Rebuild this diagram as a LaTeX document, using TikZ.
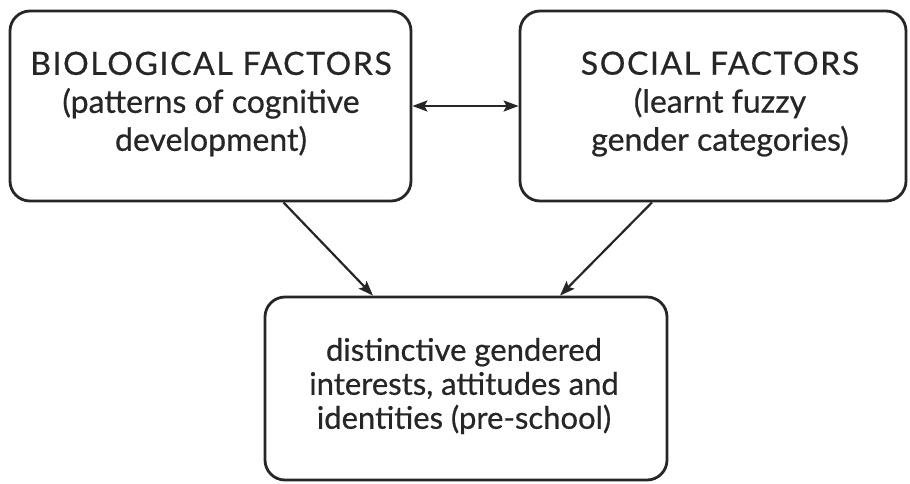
\documentclass[tikz,border=0pt]{standalone}
\usepackage{fontspec}
\setmainfont{Lato}
\newfontfamily\gillish{Lato}[FakeBold=0.6]
\newfontfamily\gillcaps{Lato}[FakeBold=0.6,LetterSpace=5]
\usetikzlibrary{arrows.meta,calc}
\definecolor{ink}{HTML}{262626}
\tikzset{
  factorbox/.style={draw=ink, line width=2.8pt, rounded corners=20pt, align=center,
    text=ink, inner sep=0pt},
  topfont/.style={font=\gillish\fontsize{32}{38}\selectfont},
  botfont/.style={font=\gillish\fontsize{31}{34}\selectfont},
  link/.style={draw=ink, line width=2.2pt, -{Stealth[length=15pt,width=11pt,inset=3pt]}},
  twolink/.style={draw=ink, line width=2.2pt, {Stealth[length=15pt,width=11pt,inset=3pt]}-{Stealth[length=15pt,width=11pt,inset=3pt]}}
}
\begin{document}
\begin{tikzpicture}[x=1pt,y=-1pt]
\useasboundingbox (0,0) rectangle (910,483);
\node[factorbox, minimum width=401pt, minimum height=190pt] (bio) at (210.5,106) {};
\node[factorbox, minimum width=386pt, minimum height=190pt] (soc) at (713,106) {};
\node[factorbox, minimum width=402pt, minimum height=183pt] (out) at (466,388.5) {};
\node[topfont, text=ink, align=center, anchor=center] (biotext) at (211,104)
  {{\gillcaps BIOLOGICAL FACTORS}\\(patterns of cognitive\\development)};
\node[topfont, text=ink, align=center, anchor=center] (soctext) at (720,104)
  {{\gillcaps SOCIAL FACTORS}\\(learnt fuzzy\\gender categories)};
\node[botfont, text=ink, align=center, anchor=center] (outtext) at (464,386)
  {distinctive gendered\\interests, attitudes and\\identities (pre-school)};
\draw[twolink] (bio.east) -- (soc.west);
\draw[link] ([xshift=73pt]bio.south) -- ([xshift=-93pt]out.north);
\draw[link] ([xshift=-61pt]soc.south) -- ([xshift=94pt]out.north);
\end{tikzpicture}
\end{document}
